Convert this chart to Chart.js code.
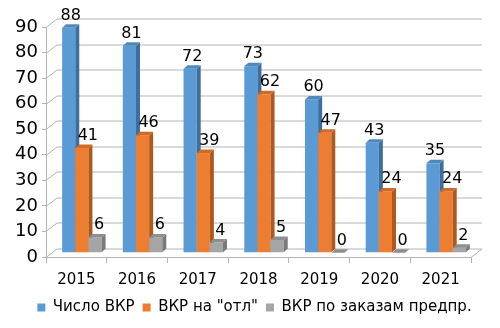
<!DOCTYPE html>
<html>
<head>
<meta charset="utf-8">
<script src="https://cdn.jsdelivr.net/npm/chart.js@4"></script>
<style>
  html, body { margin: 0; padding: 0; background: #fff; }
  #wrap { width: 500px; height: 328px; }
</style>
</head>
<body>
<div id="wrap"><canvas id="c"></canvas></div>
<script>
const years = ['2015','2016','2017','2018','2019','2020','2021'];
const totalVkr = [88, 81, 72, 73, 60, 43, 35];
const excellentVkr = [41, 46, 39, 62, 47, 24, 24];
const companyVkr = [6, 6, 4, 5, 0, 0, 2];
const seriesNames = ['Число ВКР', 'ВКР на "отл"', 'ВКР по заказам предпр.'];

const fronts = ['#5b9bd5', '#ed7d31', '#a5a5a5'];
const sides  = ['#3e6e9c', '#b0591e', '#7a7a7a'];
const tops   = ['#4f88be', '#d06a25', '#8e8e8e'];
const labelShift = [2, 6, 4];

const FONT = 'DejaVu Sans';
const WALL = { dx: 11, dy: -8.5 };   // back wall offset
const MID  = { dx: 5.5, dy: -4.25 }; // bars sit half way in
const DEPTH = { dx: 4, dy: -3.5 };   // bar box depth
const LEGEND_SHIFT = { x: 19, y: -3 };

// draws the back wall grid and the 3d boxes
const box3d = {
  id: 'box3d',
  afterLayout(chart) {
    const lg = chart.legend;
    lg.left += LEGEND_SHIFT.x; lg.right += LEGEND_SHIFT.x;
    lg.top += LEGEND_SHIFT.y; lg.bottom += LEGEND_SHIFT.y;
  },
  beforeDatasetsDraw(chart) {
    const ctx = chart.ctx, a = chart.chartArea, y = chart.scales.y;
    ctx.save();
    ctx.strokeStyle = '#b4b4b4';
    ctx.lineWidth = 1;
    y.ticks.forEach(t => {
      const py = Math.round(y.getPixelForValue(t.value)) + 0.5;
      ctx.beginPath();
      ctx.moveTo(a.left, py);
      ctx.lineTo(a.left + WALL.dx, py + WALL.dy);
      ctx.lineTo(a.right + WALL.dx, py + WALL.dy);
      ctx.stroke();
    });
    const by = Math.round(a.bottom) + 0.5;
    ctx.beginPath();
    ctx.moveTo(a.right, by);
    ctx.lineTo(a.right + WALL.dx, by + WALL.dy);
    ctx.stroke();

    chart.data.datasets.forEach((ds, di) => {
      chart.getDatasetMeta(di).data.forEach(el => {
        const L = el.x - el.width / 2 + MID.dx, R = el.x + el.width / 2 + MID.dx;
        const T = el.y + MID.dy, B = el.base + MID.dy;
        ctx.fillStyle = fronts[di];
        ctx.fillRect(L, T, R - L, B - T);
        ctx.fillStyle = sides[di];
        ctx.beginPath();
        ctx.moveTo(R, T); ctx.lineTo(R + DEPTH.dx, T + DEPTH.dy);
        ctx.lineTo(R + DEPTH.dx, B + DEPTH.dy); ctx.lineTo(R, B);
        ctx.closePath(); ctx.fill();
        ctx.fillStyle = tops[di];
        ctx.beginPath();
        ctx.moveTo(L, T); ctx.lineTo(L + DEPTH.dx, T + DEPTH.dy);
        ctx.lineTo(R + DEPTH.dx, T + DEPTH.dy); ctx.lineTo(R, T);
        ctx.closePath(); ctx.fill();
      });
    });

    ctx.fillStyle = '#000';
    ctx.font = '16px "' + FONT + '"';
    ctx.textAlign = 'center';
    ctx.textBaseline = 'alphabetic';
    chart.data.datasets.forEach((ds, di) => {
      chart.getDatasetMeta(di).data.forEach((el, i) => {
        ctx.fillText(ds.data[i], el.x + MID.dx + labelShift[di], el.y + MID.dy + DEPTH.dy - 4.5);
      });
    });
    ctx.restore();
    return false;
  }
};

new Chart(document.getElementById('c'), {
  type: 'bar',
  data: {
    labels: years,
    datasets: [
      { label: seriesNames[0], data: totalVkr, backgroundColor: fronts[0] },
      { label: seriesNames[1], data: excellentVkr, backgroundColor: fronts[1] },
      { label: seriesNames[2], data: companyVkr, backgroundColor: fronts[2] }
    ]
  },
  options: {
    responsive: true, maintainAspectRatio: false, animation: false,
    categoryPercentage: 0.65, barPercentage: 1,
    layout: { padding: { top: 27, right: 29, left: 0, bottom: 0 } },
    plugins: {
      legend: { position: 'bottom', labels: { boxWidth: 8, boxHeight: 8, padding: 8, color: '#000', font: { family: FONT, size: 15 } } },
      tooltip: { enabled: false }
    },
    scales: {
      x: {
        afterFit: s => { s.height -= 2; },
        grid: { drawOnChartArea: false, tickLength: 6, color: '#b4b4b4' },
        border: { color: '#b4b4b4' },
        ticks: { color: '#000', padding: 8, font: { family: FONT, size: 15 } }
      },
      y: {
        min: 0, max: 90,
        afterFit: s => { s.width = 46; },
        grid: { drawOnChartArea: false, tickLength: 4, color: '#b4b4b4' },
        border: { color: '#b4b4b4' },
        ticks: { stepSize: 10, autoSkip: false, color: '#000', padding: 4, font: { family: FONT, size: 18 } }
      }
    }
  },
  plugins: [box3d]
});
</script>
</body>
</html>
